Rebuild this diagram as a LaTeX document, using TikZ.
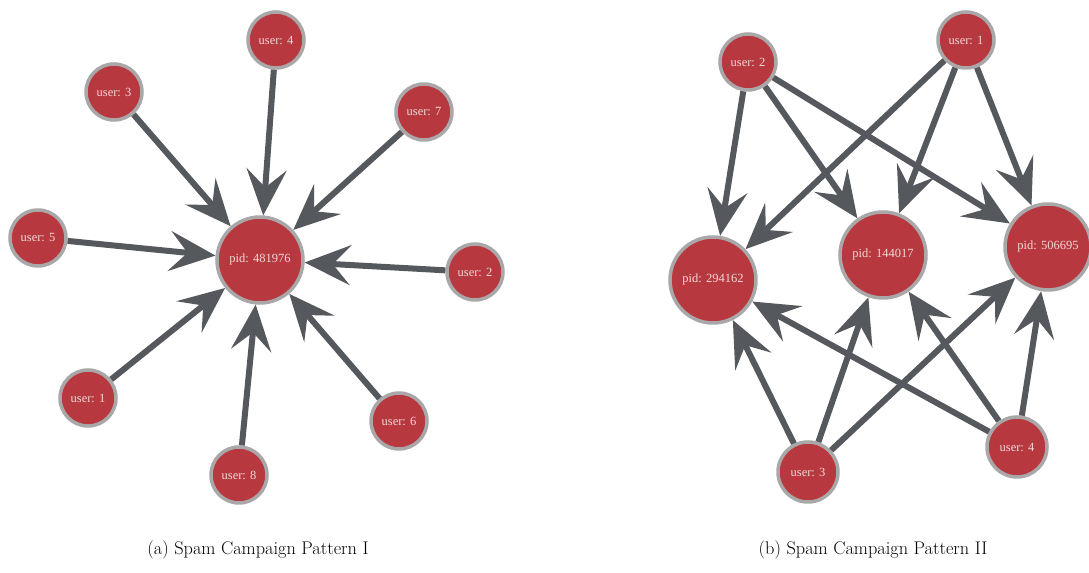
\documentclass[tikz,border=0pt]{standalone}
\usepackage{fontspec}
\newfontfamily\labelfont{Liberation Serif}
\usetikzlibrary{arrows.meta}
\definecolor{nodered}{HTML}{B8383F}
\definecolor{nodering}{HTML}{A9A7A7}
\definecolor{edgegray}{HTML}{55585C}
\definecolor{labelpink}{HTML}{EFD9D9}
\tikzset{
  usernode/.style={circle,fill=nodered,draw=nodering,line width=3.5bp,minimum size=56bp,inner sep=0pt,
    text=labelpink,font=\labelfont\fontsize{12.5bp}{14bp}\selectfont},
  pidnode/.style={usernode,minimum size=86bp},
  edge/.style={draw=edgegray,line width=6bp,-{Stealth[length=46bp,width=40bp,inset=18bp]}},
}
\begin{document}
\begin{tikzpicture}[x=1bp,y=1bp]
\useasboundingbox (0,0) rectangle (1089,573);
%% Pattern I
  % Node: pid481976
  \node[pidnode] (pidA) at (260,313) {pid: 481976};
  % Node: users
  \node[usernode] (a4) at (276,533) {user: 4};
  \node[usernode] (a3) at (114,481) {user: 3};
  \node[usernode] (a7) at (424,461) {user: 7};
  \node[usernode] (a5) at (38,335) {user: 5};
  \node[usernode] (a2) at (475,301) {user: 2};
  \node[usernode] (a1) at (88,175) {user: 1};
  \node[usernode] (a6) at (399,152) {user: 6};
  \node[usernode] (a8) at (239,98) {user: 8};
  % Edges: user -> pid481976
  \foreach \u in {a1,a2,a3,a4,a5,a6,a7,a8}
    \draw[edge] (\u) -- (pidA);
%% Pattern II
  % Node: pids
  \node[pidnode] (p1) at (713,293) {pid: 294162};
  \node[pidnode] (p2) at (883,318) {pid: 144017};
  \node[pidnode] (p3) at (1048,326) {pid: 506695};
  % Node: users
  \node[usernode] (b2) at (748,511) {user: 2};
  \node[usernode] (b1) at (966,533) {user: 1};
  \node[usernode,minimum size=60bp] (b3) at (808,101) {user: 3};
  \node[usernode,minimum size=60bp] (b4) at (1017,126) {user: 4};
  % Edges: every user -> every pid
  \foreach \u in {b1,b2,b3,b4}
    \foreach \p in {p1,p2,p3}
      \draw[edge] (\u) -- (\p);
%% Captions
  \node (capA) at (258,23) {\fontsize{18.3bp}{21bp}\selectfont (a) Spam Campaign Pattern I};
  \node (capB) at (873,23) {\fontsize{18.3bp}{21bp}\selectfont (b) Spam Campaign Pattern II};
%
\end{tikzpicture}
\end{document}
